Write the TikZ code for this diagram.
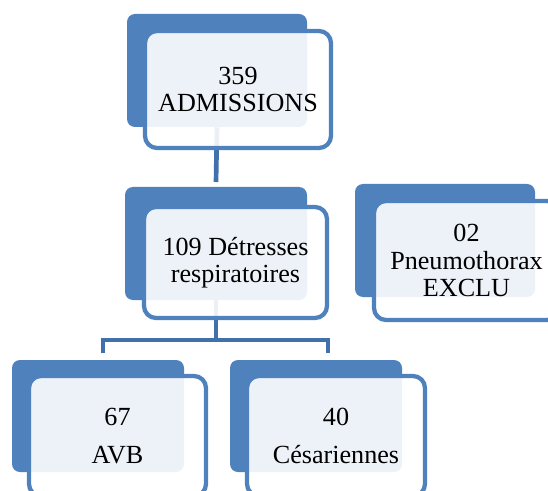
\documentclass[tikz,border=0pt]{standalone}
\usepackage{fontspec}
\setmainfont{Liberation Serif}
\usetikzlibrary{positioning, calc}
\pgfdeclarelayer{bg}
\pgfsetlayers{bg,main}
\definecolor{boxblue}{RGB}{79,129,189}
\definecolor{linkblue}{RGB}{66,112,172}

\begin{document}
\begin{tikzpicture}[x=0.75pt, y=-0.75pt,
    backbox/.style 2 args={fill=boxblue, rounded corners=6pt, inner sep=0pt,
      minimum width=#1*0.75pt, minimum height=#2*0.75pt},
    frontbox/.style 2 args={draw=boxblue, line width=3.2pt, fill=white,
      fill opacity=0.9, text opacity=1, rounded corners=9pt, inner sep=0pt,
      minimum width=#1*0.75pt, minimum height=#2*0.75pt, align=center,
      font=\fontsize{19.6}{20.5}\selectfont},
    link/.style={draw=linkblue, line width=3.5pt}]
        \useasboundingbox (0,0) rectangle (548,491);
        \clip (0,0) rectangle (548,491);

        \node[backbox={180}{113}] (admis-b) at (217,70.5) {};
        \node[frontbox={186}{117}] (admis) at (238,89.5) {359\\ADMISSIONS};

        \node[backbox={182}{113}] (detr-b) at (216,243.5) {};
        \node[frontbox={183}{111}] (detr) at (235.5,262.5) {109 Détresses\\respiratoires};

        \node[backbox={180}{113}] (pneumo-b) at (445,240.5) {};
        \node[frontbox={185}{119}] (pneumo) at (466.5,260.5) {02\\Pneumothorax\\EXCLU};

        \node[backbox={172}{112}] (avb-b) at (98,416) {};
        \node[frontbox={177}{120}] (avb) at (117.5,436) {67\\[8pt]AVB};

        \node[backbox={172}{112}] (cesar-b) at (316,416) {};
        \node[frontbox={178}{120}] (cesar) at (336,436) {40\\[8pt]Césariennes};

        \begin{pgfonlayer}{bg}
          \coordinate (detr-in) at (216,182);
          \coordinate (fork) at (216,340);
          \coordinate (fork-l) at (103,340);
          \coordinate (fork-r) at (328,340);
          \coordinate (avb-in) at (103,353);
          \coordinate (cesar-in) at (328,353);
          \draw[link] (admis-b.south) -- (detr-in);
          \draw[link] (detr-b.south) -- (fork);
          \draw[link] (avb-in) -- (fork-l) -- (fork-r) -- (cesar-in);
        \end{pgfonlayer}
      \end{tikzpicture}
\end{document}
